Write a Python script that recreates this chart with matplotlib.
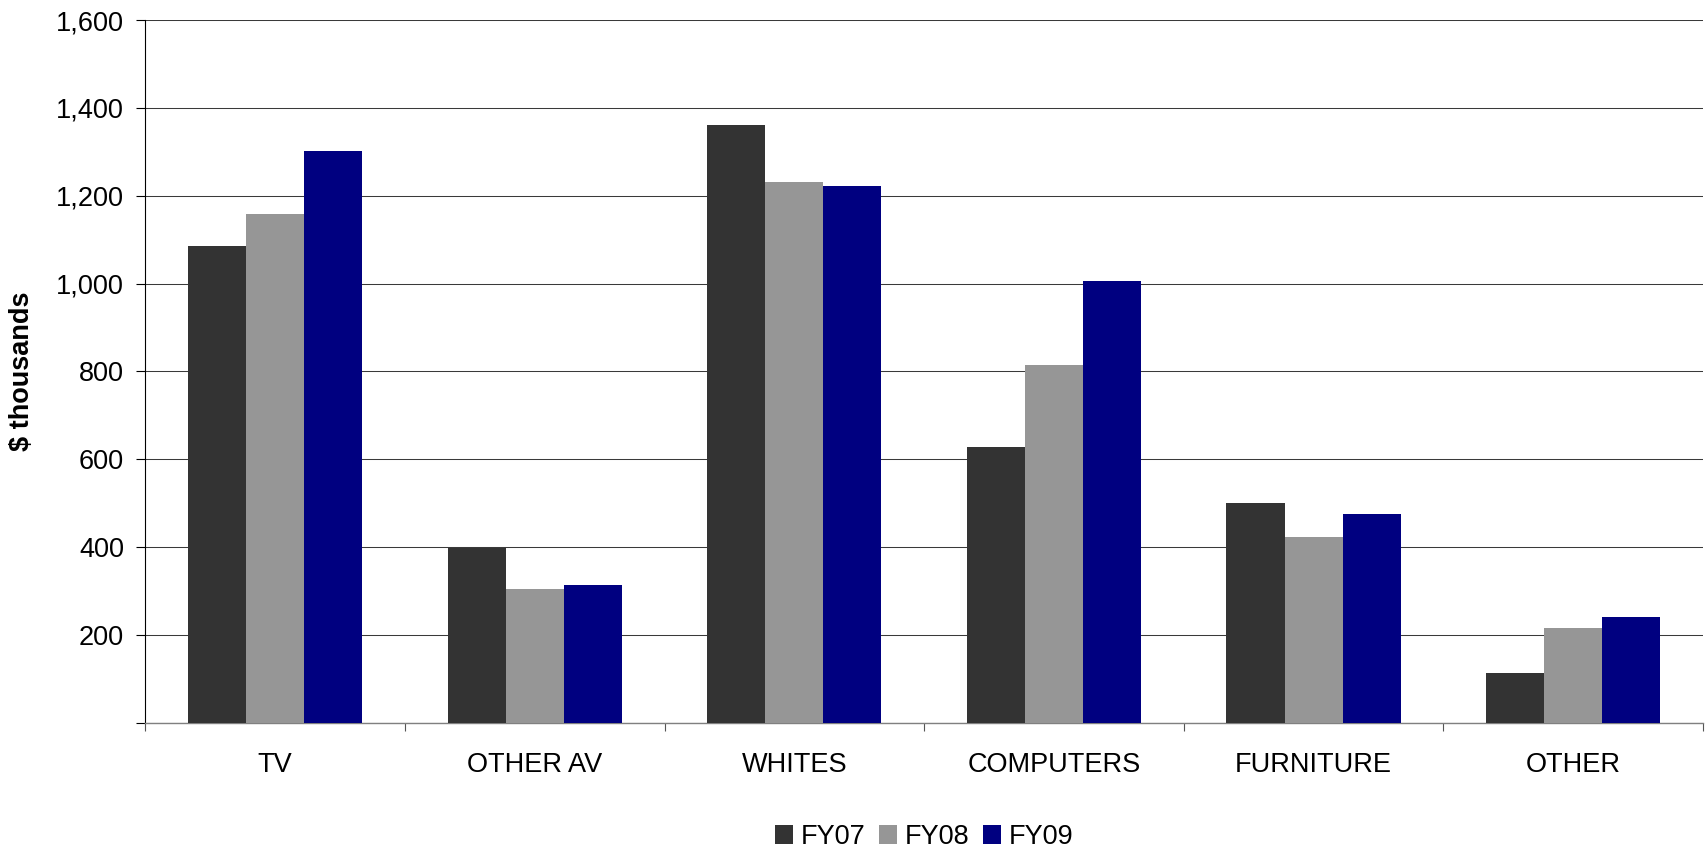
import numpy as np
import matplotlib
matplotlib.use("Agg")
import matplotlib.pyplot as plt
from matplotlib.ticker import FuncFormatter

plt.rcParams["font.family"] = ["Liberation Sans", "DejaVu Sans"]

categories = ["TV", "OTHER AV", "WHITES", "COMPUTERS", "FURNITURE", "OTHER"]
fy07 = [1085, 398, 1361, 628, 500, 113]
fy08 = [1158, 304, 1231, 814, 423, 216]
fy09 = [1301, 313, 1222, 1006, 475, 241]
series_names = ["FY07", "FY08", "FY09"]
y_ticks = [0, 200, 400, 600, 800, 1000, 1200, 1400, 1600]

colors = ["#333333", "#969696", "#000080"]
fs = 19.5

fig = plt.figure(figsize=(17.05, 8.49), dpi=100)
ax = fig.add_axes([145.3 / 1705, 1 - 722.7 / 849, (1703 - 145.3) / 1705, (722.7 - 20) / 849])

x = np.arange(len(categories))
w = 0.2236
for i, (vals, name) in enumerate(zip([fy07, fy08, fy09], series_names)):
    ax.bar(x + (i - 1) * w, vals, width=w, color=colors[i], label=name, zorder=3)

ax.set_xlim(-0.5, len(categories) - 0.5)
ax.set_ylim(0, 1600)
ax.set_yticks(y_ticks)
ax.yaxis.set_major_formatter(FuncFormatter(lambda v, p: "" if v == 0 else f"{int(v):,}"))
ax.grid(axis="y", color="#3a3a3a", linewidth=0.75, zorder=0)

# category ticks sit on the group boundaries, labels in the middle
ax.set_xticks(np.arange(len(categories) + 1) - 0.5)
ax.set_xticklabels([])
ax.set_xticks(x, minor=True)
ax.set_xticklabels(categories, minor=True, fontsize=fs)
ax.tick_params(axis="x", which="major", direction="out", length=6, width=0.8, color="#555555")
ax.tick_params(axis="x", which="minor", length=0, pad=21)
ax.tick_params(axis="y", direction="out", length=6.3, width=0.8, labelsize=fs, pad=9)

for s in ["top", "right"]:
    ax.spines[s].set_visible(False)
ax.spines["left"].set_color("black")
ax.spines["left"].set_linewidth(0.8)
ax.spines["bottom"].set_color("#808080")
ax.spines["bottom"].set_linewidth(1.0)

fig.text(22 / 1705, 1 - 371 / 849, "$ thousands", rotation=90, ha="center", va="center",
         fontsize=fs, fontweight="bold")

fig.legend(loc="lower center", bbox_to_anchor=(0.542, -0.014), ncol=3, frameon=False,
           fontsize=fs, handlelength=0.68, handleheight=0.68, handletextpad=0.28,
           columnspacing=0.5, borderaxespad=0)

fig.savefig("out.png", dpi=100)
